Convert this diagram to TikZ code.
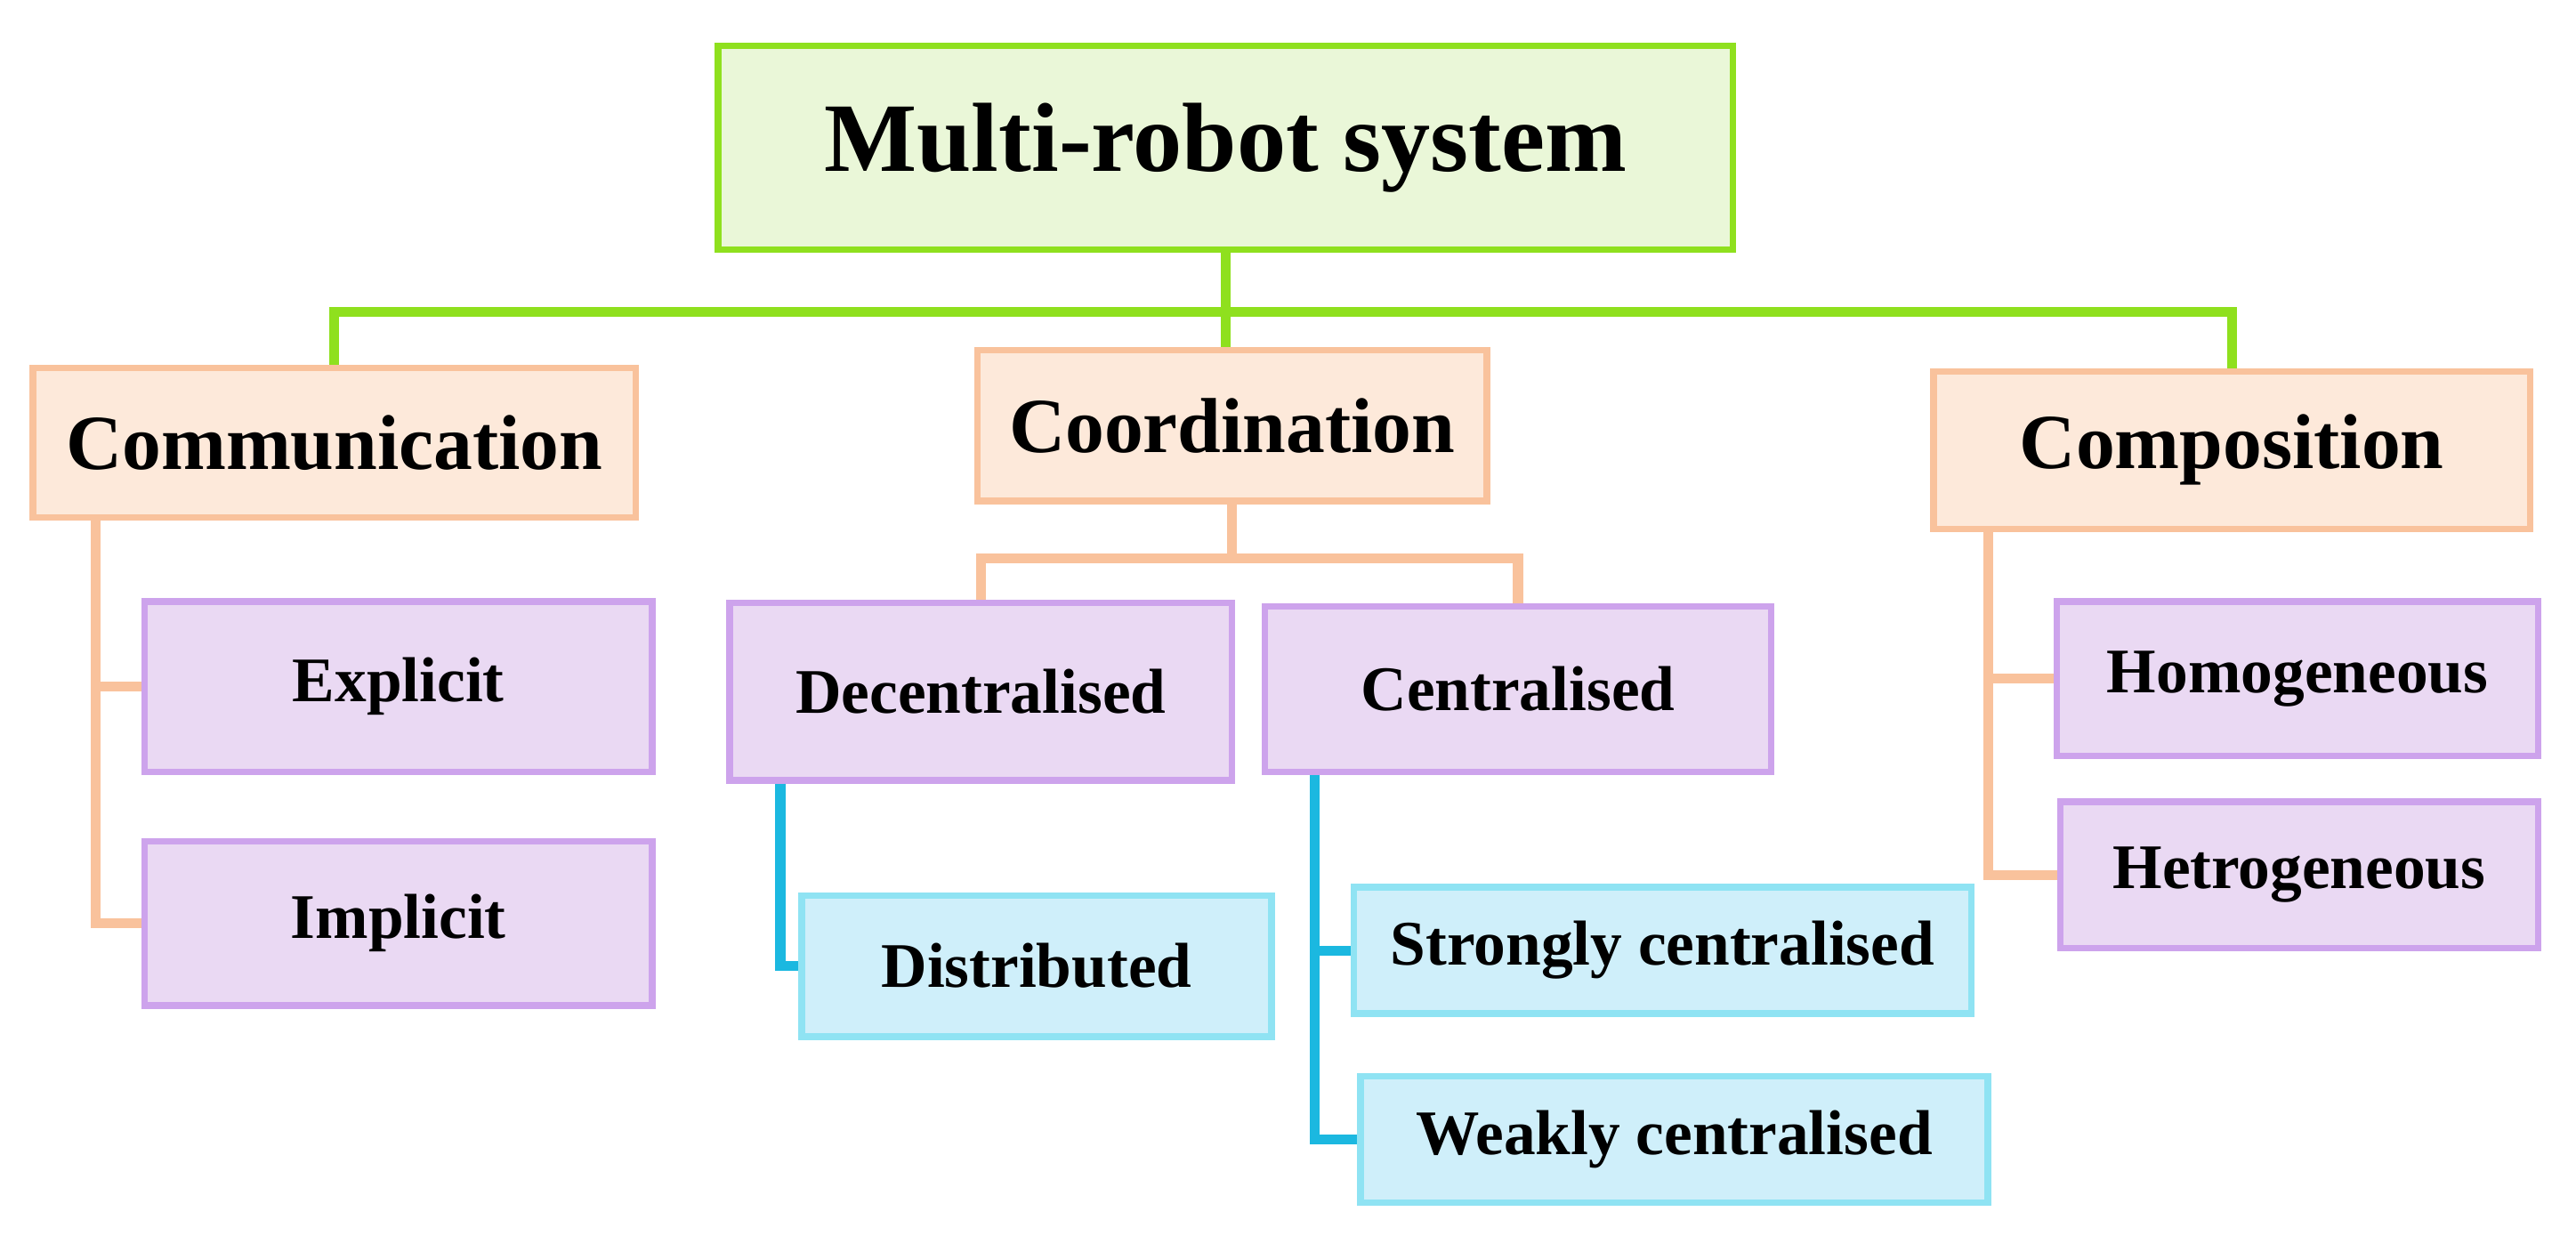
\documentclass[tikz,border=0pt]{standalone}
\usepackage{fontspec}
\setmainfont{Liberation Serif}
\begin{document}
\definecolor{gB}{HTML}{8FE01E}\definecolor{gF}{HTML}{EAF7D8}
\definecolor{oB}{HTML}{F9C29C}\definecolor{oF}{HTML}{FDE9DA}
\definecolor{pB}{HTML}{CDA3EC}\definecolor{pF}{HTML}{EAD9F3}
\definecolor{cB}{HTML}{8FE3F3}\definecolor{cF}{HTML}{CFEFFA}
\definecolor{cL}{HTML}{1BB8E0}
\begin{tikzpicture}[x=0.02cm,y=-0.02cm,
 box/.style={draw,line width=2.3pt,inner sep=0pt,font=\bfseries},
 gbox/.style={box,draw=gB,fill=gF,font=\fontsize{34}{40}\selectfont\bfseries},
 obox/.style={box,draw=oB,fill=oF,font=\fontsize{27}{32}\selectfont\bfseries},
 pbox/.style={box,draw=pB,fill=pF,font=\fontsize{22}{26}\selectfont\bfseries},
 cbox/.style={box,draw=cB,fill=cF,font=\fontsize{22}{26}\selectfont\bfseries},
 gl/.style={draw=gB,line width=3.4pt},
 ol/.style={draw=oB,line width=3.4pt},
 cl/.style={draw=cL,line width=3.4pt}]
\useasboundingbox (0,0) rectangle (1568,757);
\newcommand{\bx}[7]{\node[#1,minimum width=#4*0.02cm,minimum height=#5*0.02cm] (#2) at (#3) {#6};}
\node[gbox,minimum width=12.36cm,minimum height=2.48cm] (title) at (746,90) {Multi-robot system};
\node[obox,minimum width=7.34cm,minimum height=1.82cm] (comm) at (203.5,269.5) {Communication};
\node[obox,minimum width=6.2cm,minimum height=1.84cm] (coord) at (750,259) {Coordination};
\node[obox,minimum width=7.26cm,minimum height=1.92cm] (comp) at (1358.5,274) {Composition};
\node[pbox,minimum width=6.18cm,minimum height=2.08cm] (expl) at (242.5,418) {Explicit};
\node[pbox,minimum width=6.18cm,minimum height=2.0cm] (impl) at (242.5,562) {Implicit};
\node[pbox,minimum width=6.12cm,minimum height=2.16cm] (dec) at (597,421) {Decentralised};
\node[pbox,minimum width=6.16cm,minimum height=2.02cm] (cen) at (924,419.5) {Centralised};
\node[pbox,minimum width=5.86cm,minimum height=1.88cm] (hom) at (1398.5,413) {Homogeneous};
\node[pbox,minimum width=5.82cm,minimum height=1.78cm] (het) at (1399.5,532.5) {Hetrogeneous};
\node[cbox,minimum width=5.72cm,minimum height=1.72cm] (dis) at (631,588) {Distributed};
\node[cbox,minimum width=7.52cm,minimum height=1.54cm] (str) at (1012,578.5) {Strongly centralised};
\node[cbox,minimum width=7.64cm,minimum height=1.54cm] (weak) at (1019,693.5) {Weakly centralised};
% green
\coordinate (gy) at (0,190);
\begin{scope}[on background layer/.style={}]
\draw[gl] (comm.north) -- (comm.north|-gy) -- (comp.north|-gy) -- (comp.north);
\draw[gl] (title.south) -- (title.south|-coord.north);
% orange
\coordinate (oy) at (0,340);
\draw[ol] (coord.south) -- (coord.south|-oy);
\draw[ol] (dec.north) -- (dec.north|-oy) -- (cen.north|-oy) -- (cen.north);
\coordinate (cx) at (58,0);
\draw[ol] (comm.south-|cx) -- (cx|-impl.west) -- (impl.west);
\draw[ol] (cx|-expl.west) -- (expl.west);
\coordinate (px) at (1210,0);
\draw[ol] (comp.south-|px) -- (px|-het.west) -- (het.west);
\draw[ol] (px|-hom.west) -- (hom.west);
% cyan
\coordinate (dx) at (475,0);
\draw[cl] (dec.south-|dx) -- (dx|-dis.west) -- (dis.west);
\coordinate (ex) at (800,0);
\draw[cl] (cen.south-|ex) -- (ex|-weak.west) -- (weak.west);
\draw[cl] (ex|-str.west) -- (str.west);
\end{scope}
\end{tikzpicture}
\end{document}
